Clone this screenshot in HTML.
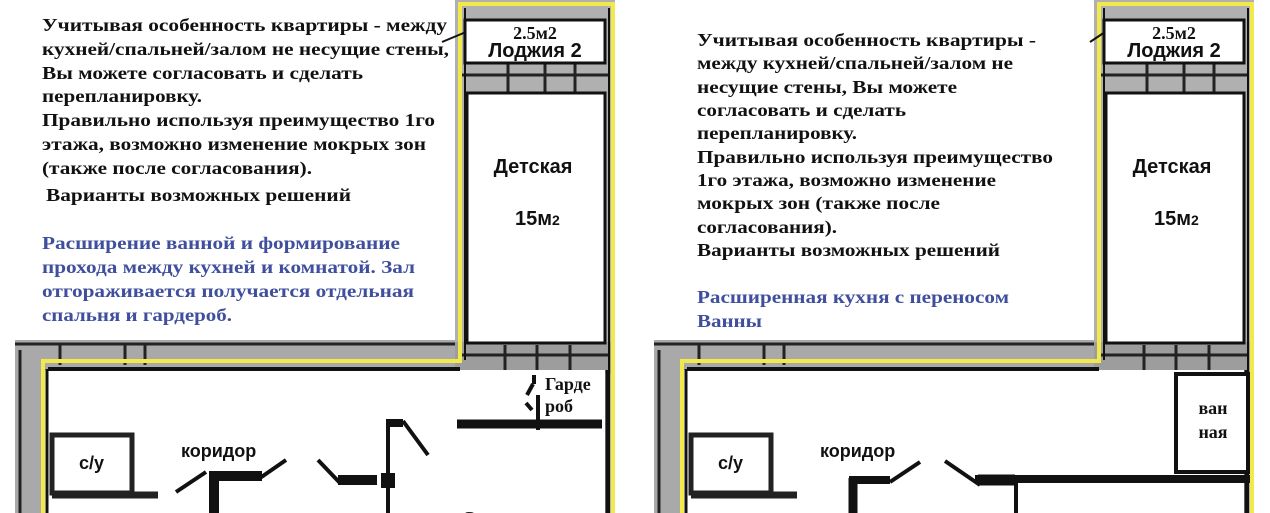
<!DOCTYPE html>
<html><head><meta charset="utf-8"><style>
html,body{margin:0;padding:0;background:#fff;width:1270px;height:513px;overflow:hidden}
svg{display:block}
.t{font-family:"Liberation Serif","Noto Serif CJK SC",serif;font-weight:bold;font-size:18px;fill:#111}
.b{fill:#3f4f9e}
.s{font-family:"Liberation Sans","Noto Sans CJK SC",sans-serif;font-weight:bold;fill:#111}
</style></head><body>
<svg width="1270" height="513" viewBox="0 0 1270 513" xmlns="http://www.w3.org/2000/svg">
<defs>
<g id="plan">
  <rect x="15" y="340" width="445" height="30" fill="#a9a9a9"/>
  <rect x="15" y="340" width="28" height="173" fill="#a9a9a9"/>
  <rect x="455" y="0" width="160" height="513" fill="#b0b0b0"/>
  <rect x="455" y="342" width="158" height="32" fill="#9d9d9d"/>
  <g stroke="#222" stroke-width="3" fill="none">
    <line x1="15" y1="344" x2="455" y2="344"/>
    <line x1="460" y1="75" x2="610" y2="75"/>
    <line x1="460" y1="355" x2="610" y2="355"/>
    <line x1="20" y1="350" x2="20" y2="513"/>
    <line x1="508" y1="63" x2="508" y2="93"/><line x1="545" y1="63" x2="545" y2="93"/><line x1="575" y1="63" x2="575" y2="93"/>
    <line x1="505" y1="345" x2="505" y2="372"/><line x1="537" y1="345" x2="537" y2="372"/><line x1="570" y1="345" x2="570" y2="372"/>
    <line x1="60" y1="345" x2="60" y2="365"/><line x1="125" y1="345" x2="125" y2="365"/><line x1="145" y1="345" x2="145" y2="365"/>
  </g>
  <rect x="48" y="370" width="557" height="143" fill="#fff"/>
  <rect x="465" y="20" width="140" height="43" fill="#fff" stroke="#111" stroke-width="3"/>
  <rect x="467" y="93" width="138" height="250" fill="#fff" stroke="#111" stroke-width="3"/>
  <line x1="48" y1="369" x2="460" y2="369" stroke="#111" stroke-width="4"/>
  <line x1="47" y1="369" x2="47" y2="513" stroke="#111" stroke-width="3"/>
  <line x1="607" y1="370" x2="607" y2="513" stroke="#111" stroke-width="3"/>
  <g stroke="#f2e94a" stroke-width="4" fill="none">
    <polyline points="43,513 43,361 460,361 460,4 613,4 613,513"/>
  </g>
  <line x1="465" y1="8" x2="465" y2="360" stroke="#111" stroke-width="2"/>
  <line x1="609" y1="8" x2="609" y2="513" stroke="#111" stroke-width="2"/>
  <rect x="52" y="435" width="80" height="58" fill="#fff" stroke="#222" stroke-width="5"/>
  <line x1="52" y1="495" x2="158" y2="495" stroke="#222" stroke-width="7"/>
</g>
</defs>

<use href="#plan"/>
<use href="#plan" x="639"/>

<g stroke="#111" fill="none" stroke-linecap="butt">
  <line x1="176" y1="492" x2="206" y2="472" stroke-width="4"/>
  <line x1="209" y1="476" x2="262" y2="476" stroke-width="10"/>
  <line x1="214" y1="476" x2="214" y2="513" stroke-width="10"/>
  <line x1="260" y1="478" x2="286" y2="460" stroke-width="4"/>
  <line x1="318" y1="460" x2="340" y2="483" stroke-width="4"/>
  <line x1="338" y1="480" x2="377" y2="480" stroke-width="10"/>
  <rect x="381" y="473" width="14" height="15" fill="#111" stroke="none"/>
  <line x1="388" y1="420" x2="388" y2="513" stroke-width="4"/>
  <line x1="386" y1="423" x2="403" y2="423" stroke-width="8"/>
  <line x1="403" y1="421" x2="428" y2="455" stroke-width="4"/>
  <line x1="457" y1="424" x2="602" y2="424" stroke-width="9"/>
  <line x1="538" y1="395" x2="538" y2="430" stroke-width="4"/>
  <line x1="534" y1="375" x2="534" y2="384" stroke-width="4"/>
  <line x1="533" y1="384" x2="527" y2="395" stroke-width="4"/>
  <line x1="526" y1="403" x2="532" y2="410" stroke-width="4"/>
  <line x1="442" y1="42" x2="466" y2="32" stroke-width="2"/>
</g>

<g stroke="#111" fill="none">
  <rect x="1176" y="374" width="72" height="98" stroke-width="4" fill="#fff"/>
  <line x1="975" y1="479" x2="1250" y2="479" stroke-width="8"/>
  <line x1="849" y1="480" x2="890" y2="480" stroke-width="8"/>
  <line x1="853" y1="478" x2="853" y2="513" stroke-width="9"/>
  <line x1="890" y1="482" x2="920" y2="462" stroke-width="4"/>
  <line x1="945" y1="461" x2="980" y2="485" stroke-width="4"/>
  <line x1="978" y1="480" x2="1015" y2="480" stroke-width="11"/>
  <line x1="1016" y1="478" x2="1016" y2="513" stroke-width="4"/>
  <line x1="1090" y1="42" x2="1105" y2="32" stroke-width="2"/>
</g>

<text x="535" y="39" class="t" font-size="16" text-anchor="middle">2.5м2</text>
<text x="535" y="57" class="s" font-size="20" text-anchor="middle">Лоджия 2</text>
<text x="533" y="173" class="s" font-size="20" text-anchor="middle">Детская</text>
<text x="515" y="225" class="s" font-size="20">15м<tspan font-size="14">2</tspan></text>
<text x="79" y="469" class="s" font-size="18">с/у</text>
<text x="181" y="457" class="s" font-size="18">коридор</text>
<text x="545" y="390" class="t">Гарде</text>
<text x="545" y="412" class="t">роб</text>
<text x="462" y="524" class="t" font-size="19">Спальня</text>

<text x="1174" y="39" class="t" font-size="16" text-anchor="middle">2.5м2</text>
<text x="1174" y="57" class="s" font-size="20" text-anchor="middle">Лоджия 2</text>
<text x="1172" y="173" class="s" font-size="20" text-anchor="middle">Детская</text>
<text x="1154" y="225" class="s" font-size="20">15м<tspan font-size="14">2</tspan></text>
<text x="718" y="469" class="s" font-size="18">с/у</text>
<text x="820" y="457" class="s" font-size="18">коридор</text>
<text x="1213" y="414" class="t" text-anchor="middle">ван</text>
<text x="1213" y="438" class="t" text-anchor="middle">ная</text>

<text class="t">
<tspan x="42" y="31" textLength="405" lengthAdjust="spacingAndGlyphs">Учитывая особенность квартиры - между</tspan>
<tspan x="42" y="55" textLength="407" lengthAdjust="spacingAndGlyphs">кухней/спальней/залом не несущие стены,</tspan>
<tspan x="42" y="79" textLength="321" lengthAdjust="spacingAndGlyphs">Вы можете согласовать и сделать</tspan>
<tspan x="42" y="102" textLength="160" lengthAdjust="spacingAndGlyphs">перепланировку.</tspan>
<tspan x="42" y="126" textLength="393" lengthAdjust="spacingAndGlyphs">Правильно используя преимущество 1го</tspan>
<tspan x="42" y="150" textLength="384" lengthAdjust="spacingAndGlyphs">этажа, возможно изменение мокрых зон</tspan>
<tspan x="42" y="174" textLength="270" lengthAdjust="spacingAndGlyphs">(также после согласования).</tspan>
<tspan x="46" y="201" textLength="305" lengthAdjust="spacingAndGlyphs">Варианты возможных решений</tspan>
</text>
<text class="t b">
<tspan x="42" y="249" textLength="358" lengthAdjust="spacingAndGlyphs">Расширение ванной и формирование</tspan>
<tspan x="42" y="273" textLength="373" lengthAdjust="spacingAndGlyphs">прохода между кухней и комнатой. Зал</tspan>
<tspan x="42" y="297" textLength="372" lengthAdjust="spacingAndGlyphs">отгораживается получается отдельная</tspan>
<tspan x="42" y="321" textLength="190" lengthAdjust="spacingAndGlyphs">спальня и гардероб.</tspan>
</text>

<text class="t">
<tspan x="697" y="46" textLength="339" lengthAdjust="spacingAndGlyphs">Учитывая особенность квартиры -</tspan>
<tspan x="697" y="69" textLength="316" lengthAdjust="spacingAndGlyphs">между кухней/спальней/залом не</tspan>
<tspan x="697" y="93" textLength="260" lengthAdjust="spacingAndGlyphs">несущие стены, Вы можете</tspan>
<tspan x="697" y="116" textLength="209" lengthAdjust="spacingAndGlyphs">согласовать и сделать</tspan>
<tspan x="697" y="139" textLength="160" lengthAdjust="spacingAndGlyphs">перепланировку.</tspan>
<tspan x="697" y="163" textLength="356" lengthAdjust="spacingAndGlyphs">Правильно используя преимущество</tspan>
<tspan x="697" y="186" textLength="299" lengthAdjust="spacingAndGlyphs">1го этажа, возможно изменение</tspan>
<tspan x="697" y="209" textLength="243" lengthAdjust="spacingAndGlyphs">мокрых зон (также после</tspan>
<tspan x="697" y="233" textLength="140" lengthAdjust="spacingAndGlyphs">согласования).</tspan>
<tspan x="697" y="256" textLength="303" lengthAdjust="spacingAndGlyphs">Варианты возможных решений</tspan>
</text>
<text class="t b">
<tspan x="697" y="303" textLength="312" lengthAdjust="spacingAndGlyphs">Расширенная кухня с переносом</tspan>
<tspan x="697" y="327" textLength="65" lengthAdjust="spacingAndGlyphs">Ванны</tspan>
</text>
</svg>
</body></html>
